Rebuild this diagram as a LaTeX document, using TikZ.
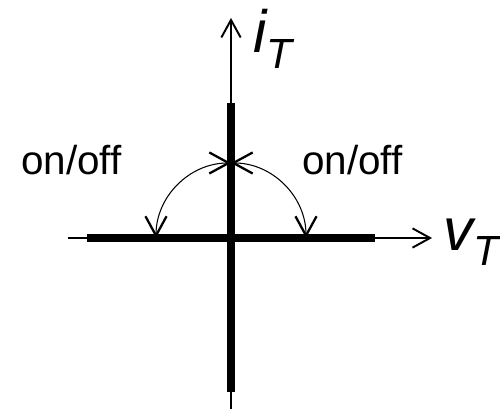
\documentclass[tikz,border=0pt]{standalone}
\usepackage{fontspec}
\setmainfont{Liberation Sans}
\usetikzlibrary{arrows.meta}

\tikzset{
  axis/.style={line width=1.1pt, -{Straight Barb[length=10pt,width=11pt,line width=1.1pt]}},
  onbar/.style={line width=4.8pt},
  swing/.style={line width=0.6pt,
    {Straight Barb[length=11pt,width=12pt,line width=1.3pt]}-{Straight Barb[length=11pt,width=12pt,line width=1.3pt]}},
  lbl/.style={inner sep=0pt, anchor=base west, font=\fontsize{23}{23}\selectfont},
}
\newcommand{\axlabel}[2]{\fontsize{34}{34}\selectfont\itshape #1\raisebox{-9pt}{\fontsize{24}{24}\selectfont #2}}

\begin{document}
\begin{tikzpicture}[scale=0.02]
  % frame = 500 x 409 px, origin at the crossing of the axes
  \useasboundingbox (-231,-171) rectangle (269,238);
  \coordinate (O) at (0,0);
  \coordinate (Ybot) at (0,-171);
  \coordinate (Ytop) at (0,220);
  \coordinate (Xleft) at (-163,0);
  \coordinate (Xright) at (201,0);
  % thick parts of the characteristic
  \coordinate (Bup) at (0,135);
  \coordinate (Bdown) at (0,-154);
  \coordinate (Bleft) at (-144,0);
  \coordinate (Bright) at (144,0);
  % ends of the switching arcs
  \coordinate (Pup) at (0,75);
  \coordinate (Pleft) at (-75,0);
  \coordinate (Pright) at (75,0);

  \draw[axis] (Ybot) -- (Ytop);
  \draw[axis] (Xleft) -- (Xright);
  \draw[onbar] (Bdown) -- (Bup);
  \draw[onbar] (Bleft) -- (Bright);

  \draw[swing] (Pup) arc (90:180:75);
  \draw[swing] (Pup) arc (90:0:75);

  \node[lbl, font=] (iT) at (22,185) {\axlabel{i}{T}};
  \node[lbl, font=] (vT) at (212,-12) {\axlabel{v}{T}};
  \node[lbl] (swL) at (-210,63) {on/off};
  \node[lbl] (swR) at (71,63) {on/off};
\end{tikzpicture}
\end{document}
